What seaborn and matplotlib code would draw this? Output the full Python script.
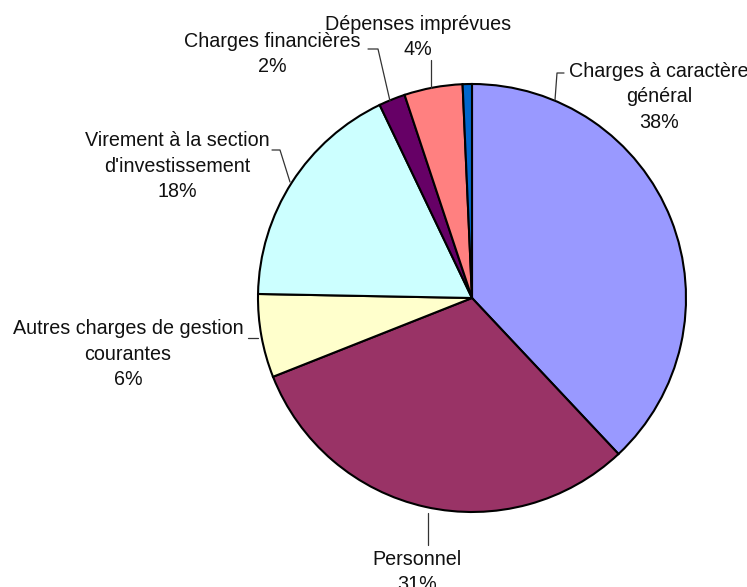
import matplotlib
matplotlib.use("Agg")
import matplotlib.pyplot as plt
import seaborn as sns

# données du graphique (parts en %)
postes = [
    "Charges à caractère\ngénéral",
    "Personnel",
    "Autres charges de gestion\ncourantes",
    "Virement à la section\nd'investissement",
    "Charges financières",
    "Dépenses imprévues",
    "",
]
parts = [38.0, 31.0, 6.3, 17.6, 2.0, 4.4, 0.7]
couleurs = ["#9999FF", "#993366", "#FFFFCC", "#CCFFFF", "#660066", "#FF8080", "#0066CC"]

# placement des étiquettes (pixels) : centre du texte, ligne de rappel
etiquettes = {
    0: ((659, 97), [(555, 100), (557, 73), (564, 73)]),
    1: ((417, 572), [(428, 513), (428, 545)]),
    2: ((128, 354), [(258, 338), (248, 338)]),
    3: ((177, 166), [(290, 182), (280, 150), (272, 150)]),
    4: ((272, 54), [(390, 101), (378, 49), (368, 49)]),
    5: ((418, 37), [(431, 88), (431, 60)]),
}

sns.set_theme(style="white")
plt.rcParams["font.family"] = ["Liberation Sans", "DejaVu Sans"]

fig = plt.figure(figsize=(7.47, 5.87), dpi=100)
ax = fig.add_axes([0, 0, 1, 1])

ax.pie(parts, colors=couleurs, center=(472, 298), radius=214,
       startangle=-90, counterclock=True,
       wedgeprops={"edgecolor": "black", "linewidth": 1.5})

ax.set_xlim(0, 747)
ax.set_ylim(587, 0)
ax.set_aspect("equal")
ax.axis("off")

for i, ((tx, ty), ligne) in etiquettes.items():
    texte = f"{postes[i]}\n{round(parts[i]):.0f}%"
    ax.text(tx, ty, texte, ha="center", va="center", multialignment="center",
            fontsize=14.2, color="#111111", linespacing=1.42)
    xs = [p[0] for p in ligne]
    ys = [p[1] for p in ligne]
    ax.plot(xs, ys, color="#333333", linewidth=0.9)

fig.savefig("out.png", dpi=100, facecolor="white")
